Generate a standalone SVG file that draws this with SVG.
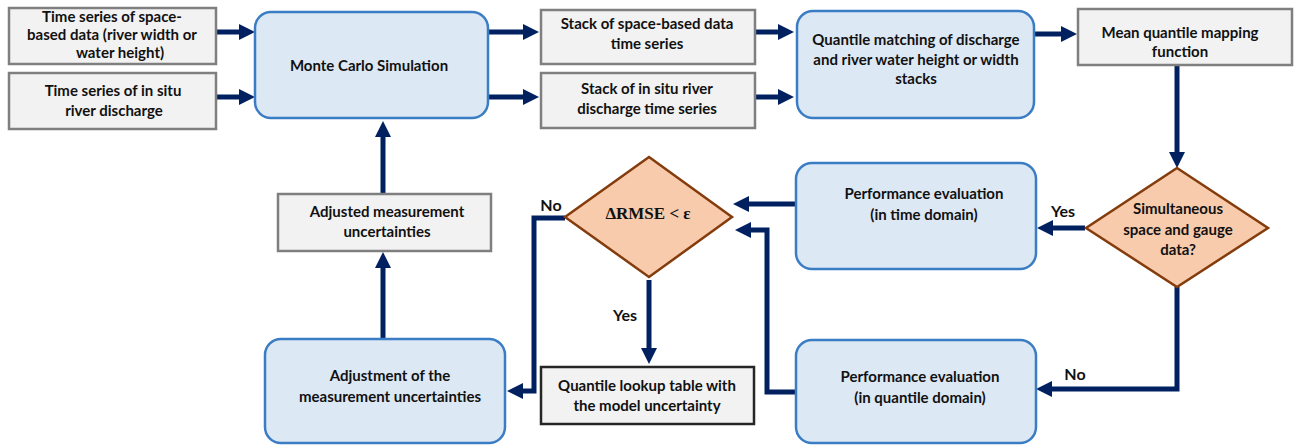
<svg xmlns="http://www.w3.org/2000/svg" width="1299" height="445" viewBox="0 0 1299 445">
<style>
text{font-family:Lato,"Open Sans","Liberation Sans",sans-serif;font-weight:bold;font-size:15px;fill:#111;text-anchor:middle}
.lbl{font-size:16px}
.gray{fill:#f2f2f2;stroke:#7f7f7f;stroke-width:2.5}
.dark{fill:#f2f2f2;stroke:#262626;stroke-width:2.5}
.blue{fill:#dde8f5;stroke:#3b7dc4;stroke-width:2.5}
.dia{fill:#f8cbad;stroke:#843c0c;stroke-width:2.5}
.c{fill:none;stroke:#002060;stroke-width:5;marker-end:url(#ah)}
.math{font-family:"Liberation Serif","DejaVu Serif",serif;font-size:17px}
</style>
<defs>
<marker id="ah" viewBox="0 0 16 16" refX="4" refY="8" markerUnits="userSpaceOnUse" markerWidth="16" markerHeight="16" orient="auto">
<path d="M0,0 L16,8 L0,16 z" fill="#002060"/>
</marker>
</defs>
<rect width="1299" height="445" fill="#fff"/>
<g id="connectors">
<path class="c" d="M216,32 H243"/>
<path class="c" d="M216,97 H243"/>
<path class="c" d="M488,32 H527"/>
<path class="c" d="M488,97 H527"/>
<path class="c" d="M755,32 H782"/>
<path class="c" d="M755,97 H782"/>
<path class="c" d="M1034,34 H1065"/>
<path class="c" d="M1177,66 V156"/>
<path class="c" d="M1085,228 H1049"/>
<path class="c" d="M1177,287 V389 H1048"/>
<path class="c" d="M796,204 H745"/>
<path class="c" d="M796,392 H767 V230 H747"/>
<path class="c" d="M565,218 H534 V391 H519"/>
<path class="c" d="M649,280 V352"/>
<path class="c" d="M383,338 V264"/>
<path class="c" d="M383,194 V133"/>
<text class="lbl" x="1063" y="217">Yes</text>
<text class="lbl" x="1075" y="380">No</text>
<text class="lbl" x="551" y="211">No</text>
<text class="lbl" x="625" y="321">Yes</text>
</g>
<g id="n-space">
<rect class="gray" x="9" y="8" width="207" height="56"/>
<text x="112" y="22">Time series of space-</text>
<text x="112" y="40">based data (river width or</text>
<text x="120" y="58">water height)</text>
</g>
<g id="n-insitu">
<rect class="gray" x="9" y="73" width="207" height="56"/>
<text x="113" y="96">Time series of in situ</text>
<text x="114" y="116">river discharge</text>
</g>
<g id="n-mc">
<rect class="blue" x="255" y="12" width="233" height="106" rx="16"/>
<text x="369" y="71">Monte Carlo Simulation</text>
</g>
<g id="n-stack1">
<rect class="gray" x="541" y="10" width="214" height="54"/>
<text x="647" y="29">Stack of space-based data</text>
<text x="647" y="49">time series</text>
</g>
<g id="n-stack2">
<rect class="gray" x="541" y="73" width="214" height="55"/>
<text x="647" y="94">Stack of in situ river</text>
<text x="647" y="114">discharge time series</text>
</g>
<g id="n-qm">
<rect class="blue" x="797" y="11" width="237" height="107" rx="16"/>
<text x="916" y="45">Quantile matching of discharge</text>
<text x="916" y="65">and river water height or width</text>
<text x="916" y="84">stacks</text>
</g>
<g id="n-mean">
<rect class="gray" x="1078" y="9" width="214" height="56"/>
<text x="1180" y="38">Mean quantile mapping</text>
<text x="1180" y="57">function</text>
</g>
<g id="n-sim">
<polygon class="dia" points="1177,168 1268,228 1177,287 1086,228"/>
<text x="1178" y="214">Simultaneous</text>
<text x="1178" y="235">space and gauge</text>
<text x="1178" y="255">data?</text>
</g>
<g id="n-perft">
<rect class="blue" x="796" y="163" width="240" height="106" rx="16"/>
<text x="924" y="199">Performance evaluation</text>
<text x="924" y="220">(in time domain)</text>
</g>
<g id="n-perfq">
<rect class="blue" x="796" y="340" width="240" height="103" rx="16"/>
<text x="920" y="382">Performance evaluation</text>
<text x="920" y="403">(in quantile domain)</text>
</g>
<g id="n-rmse">
<polygon class="dia" points="649,157 732,217 649,277 565,217"/>
<text class="math" x="648" y="219">ΔRMSE &lt; ε</text>
</g>
<g id="n-lookup">
<rect class="dark" x="541" y="367" width="213" height="57"/>
<text x="647" y="391">Quantile lookup table with</text>
<text x="647" y="411">the model uncertainty</text>
</g>
<g id="n-adjusted">
<rect class="gray" x="278" y="194" width="213" height="57"/>
<text x="387" y="217">Adjusted measurement</text>
<text x="387" y="237">uncertainties</text>
</g>
<g id="n-adjust">
<rect class="blue" x="265" y="339" width="240" height="104" rx="16"/>
<text x="390" y="381">Adjustment of the</text>
<text x="390" y="402">measurement uncertainties</text>
</g>
</svg>
